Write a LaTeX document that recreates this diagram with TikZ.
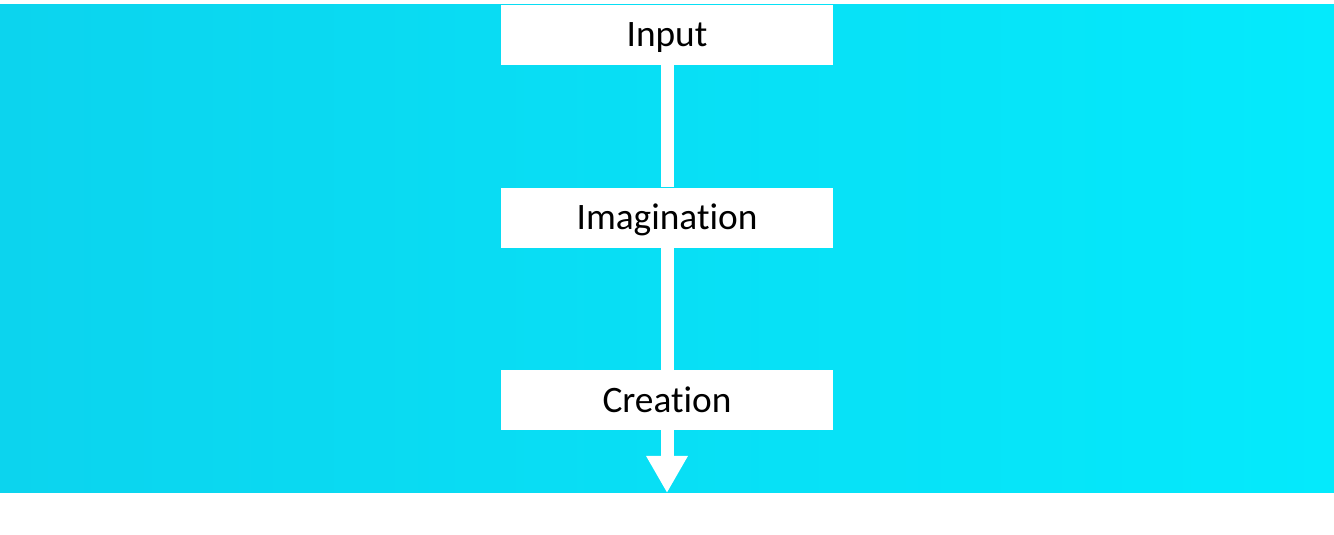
\documentclass[tikz,border=0pt]{standalone}
\usepackage{fontspec}
\setmainfont[Ligatures=NoCommon]{Carlito}
\usetikzlibrary{positioning,arrows.meta}
\begin{document}
\begin{tikzpicture}[
    x=1pt, y=1pt,
    box/.style={fill=white, minimum width=249pt, minimum height=45pt, inner sep=0pt,
        text height=18pt, text depth=0pt, font=\fontsize{28}{33}\selectfont},
    freccia/.style={draw=white, line width=9.75pt},
    node distance=91.5pt
    ]
    % Definizione colori
    \definecolor{sfondoSx}{RGB}{12, 212, 238}
    \definecolor{sfondoMid}{RGB}{28, 242, 255}
    \definecolor{sfondoDx}{RGB}{4, 234, 252}

    \useasboundingbox (0,0) rectangle (1000.5,401.25);

    % Sfondo
    \shade[left color=sfondoSx, middle color=sfondoMid, right color=sfondoDx] (0,31.5) rectangle (1000.5,397.5);

    % Blocchi del diagramma
    \node[box] (input) at (500.25,375) {Input};
    \node[box, below=of input] (imagination) {Imagination};
    \node[box, below=of imagination] (creation) {Creation};
    \coordinate (fine) at (500.25,31.5);

    % Frecce
    \draw[freccia] (input) -- (imagination);
    \draw[freccia] (imagination) -- (creation);
    \draw[freccia, -{Triangle[width=29.25pt, length=27.75pt]}] (creation) -- (fine);
\end{tikzpicture}
\end{document}
